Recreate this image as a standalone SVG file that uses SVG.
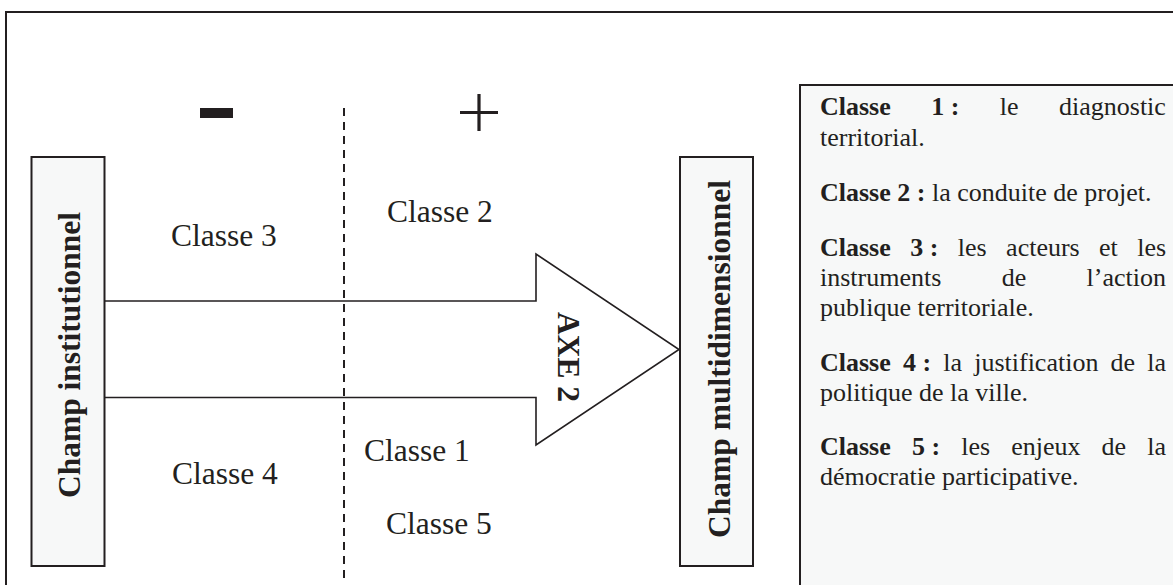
<svg xmlns="http://www.w3.org/2000/svg" width="1173" height="585" viewBox="0 0 1173 585">
<style>
.frame{fill:#ffffff;stroke:#231f20;stroke-width:2}
.box{fill:#f7f8f8;stroke:#231f20;stroke-width:2}
.lbl{font-family:"Liberation Serif","Times New Roman",serif;font-size:31.5px;fill:#231f20}
.vl{font-family:"Liberation Serif","Times New Roman",serif;font-size:31.5px;font-weight:bold;fill:#231f20;text-anchor:middle}
.pt{font-family:"Liberation Serif","Times New Roman",serif;font-size:26px;fill:#231f20}
.b{font-weight:bold}
.conn{fill:none;stroke:#231f20;stroke-width:1.6}
.dash{fill:none;stroke:#231f20;stroke-width:2;stroke-dasharray:8 6}
</style>
<rect class="frame" x="6" y="12" width="1200" height="620"/>
<g id="signs">
<rect x="200" y="108" width="33" height="10" fill="#231f20"/>
<path d="M460 112.5H498M479 94V131" stroke="#231f20" stroke-width="3.2" fill="none"/>
</g>
<g id="connectors">
<path class="dash" d="M344 108V582"/>
<path class="conn" d="M104 301H536V254L679 349.5L536 445V397.5H104"/>
</g>
<g id="champ-institutionnel">
<rect class="box" x="31.5" y="157" width="73" height="409"/>
<text class="vl" transform="translate(80 355) rotate(-90)">Champ institutionnel</text>
</g>
<g id="champ-multidimensionnel">
<rect class="box" x="680" y="157" width="73" height="409"/>
<text class="vl" transform="translate(730 359) rotate(-90)">Champ multidimensionnel</text>
</g>
<g id="axe2">
<text class="vl" transform="translate(557.5 357) rotate(90)">AXE 2</text>
</g>
<g id="classes">
<text class="lbl" x="171" y="246">Classe 3</text>
<text class="lbl" x="387" y="222">Classe 2</text>
<text class="lbl" x="172" y="484">Classe 4</text>
<text class="lbl" x="364" y="461">Classe 1</text>
<text class="lbl" x="386" y="534">Classe 5</text>
</g>
<g id="legend">
<rect class="box" x="800" y="85" width="400" height="520"/>
<text class="pt" y="115"><tspan class="b" x="820">Classe</tspan><tspan class="b" x="931.2">1 :</tspan><tspan x="999.8">le</tspan><tspan x="1059">diagnostic</tspan></text>
<text class="pt" x="820" y="146">territorial.</text>
<text class="pt" x="820" y="201"><tspan class="b">Classe 2 :</tspan> la conduite de projet.</text>
<text class="pt" y="256"><tspan class="b" x="820">Classe</tspan><tspan class="b" x="910.2">3 :</tspan><tspan x="957.8">les</tspan><tspan x="1006.1">acteurs</tspan><tspan x="1099">et</tspan><tspan x="1137.2">les</tspan></text>
<text class="pt" y="286"><tspan x="820">instruments</tspan><tspan x="1001.7">de</tspan><tspan x="1086.6">l’action</tspan></text>
<text class="pt" x="820" y="316">publique territoriale.</text>
<text class="pt" y="371"><tspan class="b" x="820">Classe</tspan><tspan class="b" x="903">4 :</tspan><tspan x="943.3">la</tspan><tspan x="974.2">justification</tspan><tspan x="1110.6">de</tspan><tspan x="1147.2">la</tspan></text>
<text class="pt" x="820" y="401">politique de la ville.</text>
<text class="pt" y="455"><tspan class="b" x="820">Classe</tspan><tspan class="b" x="911.9">5 :</tspan><tspan x="961.2">les</tspan><tspan x="1011.2">enjeux</tspan><tspan x="1101.6">de</tspan><tspan x="1147.2">la</tspan></text>
<text class="pt" x="820" y="485">démocratie participative.</text>
</g>
</svg>
